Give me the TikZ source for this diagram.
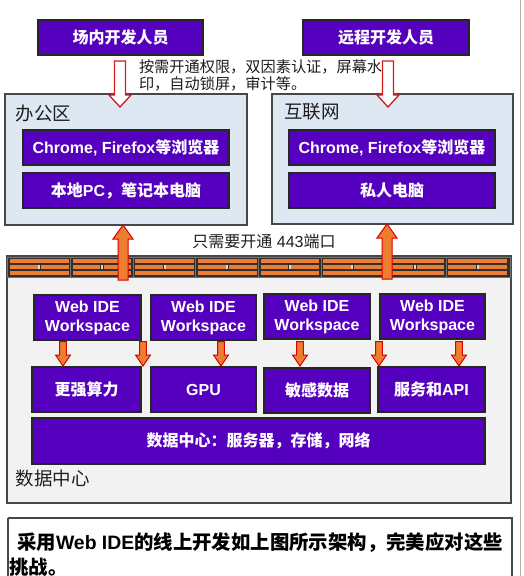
\documentclass[tikz,border=0pt]{standalone}
\usepackage{fontspec}
\setmainfont{Liberation Sans}
\newfontfamily\cjk{Noto Sans CJK SC}
\usetikzlibrary{calc}
\definecolor{purp}{RGB}{85,0,190}
\definecolor{lblue}{RGB}{221,232,243}
\definecolor{dcgray}{RGB}{242,242,242}
\definecolor{orng}{RGB}{237,125,49}
\definecolor{redline}{RGB}{212,28,28}
\definecolor{fwdark}{RGB}{48,48,48}
\definecolor{txtdark}{RGB}{30,30,30}
\tikzset{
  pbox/.style={draw=black!85, line width=1.3pt, fill=purp, text=white,
    font=\bfseries\fontsize{16}{19}\selectfont, align=center, inner sep=0pt, outer sep=0pt},
  zone/.style={draw=black!72, line width=1.4pt, inner sep=0pt, outer sep=0pt},
  hollowarrow/.style={draw=redline, fill=white, line width=1.3pt, line join=miter},
  orangearrow/.style={draw=red!85!black, fill=orng, line width=1pt, line join=miter},
  plaintext/.style={text=txtdark, inner sep=0pt, outer sep=0pt},
}
\newcommand\mybox[7]{\node[#1, anchor=north west, minimum width={#4-#2}, minimum height={#5-#3}] (#6) at (#2,#3) {#7};}
% down arrow: style, tail coord, tip coord, half shaft, half head, head length
\newcommand\arrdown[6]{\draw[#1] let \p1=(#2), \p2=(#3) in
  (\x1-#4pt,\y1) -- (\x1-#4pt,\y2+#6pt) -- (\x1-#5pt,\y2+#6pt) -- (\x1,\y2)
  -- (\x1+#5pt,\y2+#6pt) -- (\x1+#4pt,\y2+#6pt) -- (\x1+#4pt,\y1) -- cycle;}
\newcommand\arrup[6]{\draw[#1] let \p1=(#2), \p2=(#3) in
  (\x1-#4pt,\y1) -- (\x1-#4pt,\y2-#6pt) -- (\x1-#5pt,\y2-#6pt) -- (\x1,\y2)
  -- (\x1+#5pt,\y2-#6pt) -- (\x1+#4pt,\y2-#6pt) -- (\x1+#4pt,\y1) -- cycle;}
\begin{document}
\begin{tikzpicture}[x=1pt,y=-1pt]
\useasboundingbox (0,0) rectangle (523,576);
\fill[white] (0,0) rectangle (523,576);
\draw[black!30, line width=1pt] (520.5,0) -- (520.5,576);

% developers
\mybox{pbox}{38}{20}{203}{55}{dev1}{\cjk 场内开发人员}
\mybox{pbox}{303}{20}{469}{55}{dev2}{\cjk 远程开发人员}

\node[plaintext, anchor=west, align=left, font=\fontsize{15.2}{16.8}\selectfont] (note) at (139,75.5)
  {\cjk 按需开通权限，双因素认证，屏幕水\\\cjk 印，自动锁屏，审计等。};

% zones
\mybox{zone, fill=lblue}{5}{94}{247}{225}{office}{}
\mybox{zone, fill=lblue}{272}{94}{513}{224}{inet}{}
\node[plaintext, anchor=west, font=\fontsize{18.5}{20}\selectfont] (officelbl) at (16,114) {\cjk 办公区};
\node[plaintext, anchor=west, font=\fontsize{18.5}{20}\selectfont] (inetlbl) at (284,112) {\cjk 互联网};

\mybox{pbox}{23}{130}{229}{165}{chrome1}{Chrome, Firefox{\cjk 等浏览器}}
\mybox{pbox}{23}{173}{229}{208}{pc1}{{\cjk 本地}PC{\cjk ，笔记本电脑}}
\mybox{pbox}{289}{130}{495}{165}{chrome2}{Chrome, Firefox{\cjk 等浏览器}}
\mybox{pbox}{289}{173}{495}{208}{pc2}{\cjk 私人电脑}

\node[plaintext, font=\fontsize{16}{18}\selectfont] (port) at (264,241) {{\cjk 只需要开通} 443{\cjk 端口}};

% data centre
\mybox{zone, fill=dcgray}{7}{256}{511}{503}{dc}{}
\node[plaintext, anchor=west, font=\fontsize{18.5}{20}\selectfont] (dclbl) at (16,478) {\cjk 数据中心};

% firewall
\fill[fwdark] (7.5,257.5) rectangle (510,277.5);
\foreach \i in {0,...,7}{
  \pgfmathsetmacro\xa{8+\i*62.625}
  \pgfmathsetmacro\xb{\xa+62.625}
  \pgfmathsetmacro\xm{(\xa+\xb)/2}
  \fill[orng] (\xa+2,259.2) rectangle (\xb-2,262.8);
  \fill[orng] (\xa+2,265.2) rectangle (\xm-1.6,268.8);
  \fill[orng] (\xm+1.6,265.2) rectangle (\xb-2,268.8);
  \fill[black!15] (\xm-1,264.8) rectangle (\xm+1,269.2);
  \fill[orng] (\xa+2,271.2) rectangle (\xb-2,274.8);
  \ifnum\i<7 \draw[black!55, line width=1pt] (\xb,258) -- (\xb,277); \fi
}
\draw[black!55, line width=1pt] (7.5,257.5) rectangle (510,277.5);

% workspaces
\mybox{pbox}{34}{295}{141}{340}{w1}{Web IDE\\Workspace}
\mybox{pbox}{151}{295}{256}{340}{w2}{Web IDE\\Workspace}
\mybox{pbox}{264}{294}{370}{339}{w3}{Web IDE\\Workspace}
\mybox{pbox}{380}{294}{485}{339}{w4}{Web IDE\\Workspace}

\mybox{pbox}{32}{367}{141}{412}{c1}{\cjk 更强算力}
\mybox{pbox}{151}{367}{256}{412}{c2}{GPU}
\mybox{pbox}{264}{368}{370}{413}{c3}{\cjk 敏感数据}
\mybox{pbox}{378}{367}{485}{412}{c4}{{\cjk 服务和}API}
\mybox{pbox}{32}{418}{485}{464}{dcbar}{\cjk 数据中心：服务器，存储，网络}

% bottom note
\draw[black!72, line width=1.6pt, fill=white] (8,518) -- (512,518) -- (512,600) (8,600) -- (8,518);
\node[anchor=west, inner sep=0pt, font=\bfseries\fontsize{19.4}{21}\selectfont] (concl1) at (17,543)
  {{\cjk 采用}Web IDE{\cjk 的线上开发如上图所示架构，完美应对这些}};
\node[anchor=west, inner sep=0pt, font=\bfseries\fontsize{19.4}{21}\selectfont] (concl2) at (9,567)
  {\cjk 挑战。};

% arrow coordinates
\coordinate (h1t) at ($(dev1.south)+(-0.5,6)$);
\coordinate (h1h) at (h1t |- 0,107);
\coordinate (h2t) at ($(dev2.south)+(2,6)$);
\coordinate (h2h) at (h2t |- 0,107);
\arrdown{hollowarrow}{h1t}{h1h}{5.5}{11}{12}
\arrdown{hollowarrow}{h2t}{h2h}{5.5}{11}{12}

\coordinate (o1t) at (123,280);
\coordinate (o1h) at (o1t |- office.south);
\coordinate (o2t) at (387,279);
\coordinate (o2h) at (o2t |- inet.south);
\arrup{orangearrow}{o1t}{o1h}{5}{10}{14}
\arrup{orangearrow}{o2t}{o2h}{5}{10}{14}

\foreach \x/\s/\t in {63/w1/c1, 143/w1/c1, 221/w2/c2, 300/w3/c3, 379/w3/c4, 459/w4/c4}{
  \coordinate (st) at (\x,341.5);
  \coordinate (sh) at (\x,366);
  \arrdown{orangearrow}{st}{sh}{3.3}{7.5}{11}
}
\end{tikzpicture}
\end{document}
